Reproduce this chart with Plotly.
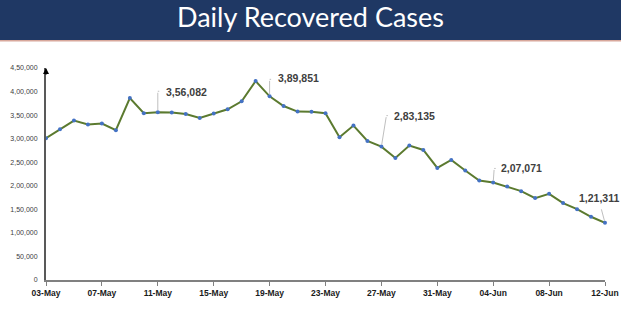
import pandas as pd
import plotly.graph_objects as go

# ---- data ----
start_date = "2021-05-03"
recovered = [300900, 320000, 338400, 329900, 332000, 317900, 386300, 353900, 356082,
             355300, 352400, 343900, 353200, 362300, 379300, 422300, 389851, 369300,
             357500, 357300, 353900, 303000, 327800, 295200, 283135, 259100, 285400,
             276100, 238000, 254900, 232400, 211200, 207071, 198500, 188600, 173800,
             182900, 163200, 150400, 134200, 121311]
dates = pd.date_range(start_date, periods=len(recovered), freq="D")
y_ticks = list(range(0, 450001, 50000))
labels_idx = [8, 16, 24, 32, 40]


def indian(n):
    s = str(int(n))
    if len(s) <= 3:
        return s
    last3 = s[-3:]
    rest = s[:-3]
    parts = []
    while len(rest) > 2:
        parts.insert(0, rest[-2:])
        rest = rest[:-2]
    if rest:
        parts.insert(0, rest)
    return ",".join(parts) + "," + last3


LINE = "#5B7A2F"
MARK = "#4472C4"

fig = go.Figure()
fig.add_trace(go.Scatter(
    x=dates, y=recovered, mode="lines+markers",
    line=dict(color=LINE, width=2),
    marker=dict(color=MARK, size=4),
    hoverinfo="skip", showlegend=False, cliponaxis=False,
))

# label layout (pixel offsets)
label_style = {
    8: dict(top=(0, -21), hook=3, lx=6, ly=20, anchor="left"),
    16: dict(top=(0, -17), hook=3, lx=6, ly=18, anchor="left"),
    24: dict(top=(5, -31), hook=3, lx=11, ly=31, anchor="left"),
    32: dict(top=(1, -14), hook=3, lx=6, ly=14, anchor="left"),
    40: dict(top=(-4, -15), hook=0, lx=-6, ly=25, anchor="center"),
}
for i in labels_idx:
    st = label_style[i]
    dx, dy = st["top"]
    fig.add_annotation(x=dates[i], y=recovered[i], text="", showarrow=True,
                       arrowhead=0, arrowwidth=1, arrowcolor="#BFBFBF",
                       ax=dx, ay=dy, standoff=2)
    if st["hook"]:
        fig.add_annotation(x=dates[i], y=recovered[i], text="", showarrow=True,
                           arrowhead=0, arrowwidth=1, arrowcolor="#BFBFBF",
                           ax=st["hook"], ay=0, xshift=dx, yshift=-dy)
    fig.add_annotation(x=dates[i], y=recovered[i], text=indian(recovered[i]),
                       showarrow=False, xanchor=st["anchor"], yanchor="middle",
                       xshift=st["lx"], yshift=st["ly"],
                       font=dict(family="Liberation Sans", size=10.5, color="#404040",
                                 weight="bold"))

# y-axis arrowhead
fig.add_annotation(x=0, xref="paper", y=450000, text="", showarrow=True,
                   arrowhead=2, arrowsize=0.8, arrowwidth=1.5, arrowcolor="#000000",
                   ax=0, ay=8)

# title banner
fig.add_shape(type="rect", xref="paper", yref="paper", x0=-0.2, x1=1.2,
              y0=1.131, y1=1.40, fillcolor="#1F3864", line=dict(width=0), layer="below")
fig.add_shape(type="line", xref="paper", yref="paper", x0=-0.2, x1=1.2,
              y0=1.129, y1=1.129, line=dict(color="#D8A89C", width=1.5))

fig.update_layout(
    width=621, height=325,
    margin=dict(l=46, r=16, t=68, b=45, autoexpand=False),
    paper_bgcolor="white", plot_bgcolor="white",
    title=dict(text="Daily Recovered Cases", x=0.5, xref="container", xanchor="center",
               y=0.945, yref="container", yanchor="middle",
               font=dict(family="Lato", size=27, color="white")),
    xaxis=dict(
        type="date", range=[dates[0], dates[-1]], automargin=False,
        tick0=dates[0], dtick=4 * 86400000, tickformat="%d-%b",
        showline=True, linecolor="#808080", linewidth=1.5,
        ticks="outside", ticklen=4, tickcolor="#808080", tickwidth=1,
        showgrid=False, zeroline=False,
        tickfont=dict(family="Liberation Sans", size=8.5, color="#1a1a1a", weight="bold"),
    ),
    yaxis=dict(
        range=[0, 450000], tickvals=y_ticks, ticktext=[indian(v) for v in y_ticks],
        automargin=False, ticklabelstandoff=5,
        showline=True, linecolor="#595959", linewidth=2,
        ticks="", showgrid=False, zeroline=False,
        tickfont=dict(family="Liberation Sans", size=7, color="#404040"),
    ),
)

fig.write_html("out.html")
